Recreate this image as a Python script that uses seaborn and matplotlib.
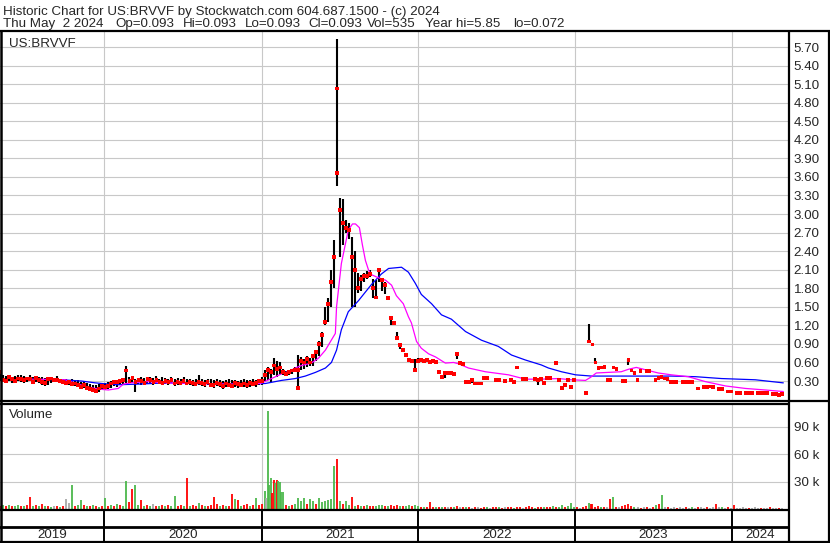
import numpy as np
import pandas as pd
import matplotlib
matplotlib.use("Agg")
import matplotlib.pyplot as plt
import seaborn as sns

nan = np.nan

# ---------------- data ----------------
first_week = "2019-05-03"
year_starts = ["2020-01-01", "2021-01-01", "2022-01-01", "2023-01-01", "2024-01-01"]
year_labels = ["2019", "2020", "2021", "2022", "2023", "2024"]
price_ticks = [0.30, 0.60, 0.90, 1.20, 1.50, 1.80, 2.10, 2.40, 2.70, 3.00,
               3.30, 3.60, 3.90, 4.20, 4.50, 4.80, 5.10, 5.40, 5.70]
volume_ticks = [30, 60, 90]            # thousands of shares
volume_tick_labels = ["30 k", "60 k", "90 k"]

# weekly high / low / close (US$)
high_2019 = [.46, .40, .38, .39, .37, .38, .40, .39, .38, .37, .39, .36, .38, .37, .36, .35, .37, .36,
             .35, .38, .34, .33, .34, .32, .33, .30, .31, .28, .30, .27, .25, .24, .23, .25, .27]
low_2019 = [.30, .29, .28, .30, .27, .28, .30, .29, .27, .28, .30, .27, .29, .26, .24, .22, .24, .27,
            .28, .28, .26, .25, .26, .24, .23, .22, .21, .18, .19, .16, .14, .12, .10, .12, .15]
close_2019 = [.44, .32, .30, .36, .33, .30, .34, .33, .31, .34, .33, .29, .35, .31, .28, .27, .33, .34,
              .31, .32, .30, .28, .27, .29, .25, .26, .24, .20, .23, .19, .17, .16, .14, .18, .22]

high_2020 = [.27, .28, .30, .31, .30, .32, .33, .54, .37, .36,
             .33, .35, .36, .35, .37, .36, .35, .38, .34, .36,
             .35, .33, .36, .34, .35, .34, .36, .33, .34, .32,
             .34, .40, .33, .32, .34, .33, .31, .33, .32, .30,
             .32, .33, .31, .32, .30, .32, .33, .31, .32, .33,
             .31, .34]
low_2020 = [.15, .17, .18, .22, .21, .24, .25, .27, .27, .26,
            .12, .25, .24, .24, .25, .27, .24, .26, .25, .23,
            .25, .24, .26, .22, .24, .24, .25, .23, .24, .22,
            .23, .24, .22, .21, .23, .20, .19, .22, .20, .17,
            .20, .21, .18, .20, .19, .21, .20, .18, .21, .22,
            .20, .23]
close_2020 = [.20, .22, .26, .28, .29, .30, .31, .47, .30, .35,
              .28, .31, .30, .27, .33, .31, .29, .32, .28, .27,
              .30, .28, .31, .26, .29, .27, .30, .26, .28, .27,
              .25, .29, .27, .25, .28, .24, .23, .27, .25, .22,
              .26, .24, .22, .27, .25, .24, .26, .23, .27, .25,
              .27, .30]

high_2021 = [.37, .48, .53, .50, .67, .62, .60, .50, .47, .48,
             .50, .52, .72, .69, .66, .70, .68, .72, .80, .95,
             1.10, 1.50, 1.65, 2.10, 2.58, 5.83, 3.26, 3.24, 2.90, 2.85,
             2.63, 2.40, 2.05, 2.01, 2.05, 2.08, 2.10, 1.95, 1.93, 2.12,
             1.93, 1.90, 1.66, 1.34, 1.26, 1.10, .90, .80, .74, .67,
             .65, .66]
low_2021 = [.24, .30, .32, .29, .40, .37, .40, .40, .38, .40,
            .42, .44, .19, .48, .50, .52, .55, .55, .62, .70,
            .85, 1.20, 1.25, 1.50, 1.80, 3.46, 2.31, 2.50, 2.70, 2.60,
            1.50, 1.50, 1.72, 1.75, 1.90, 1.95, 1.98, 1.64, 1.64, 1.90,
            1.75, 1.70, 1.62, 1.21, 1.20, .98, .82, .78, .70, .63,
            .61, .48]
close_2021 = [.30, .40, .48, .45, .55, .50, .52, .45, .42, .45,
              .47, .48, .48, .62, .60, .65, .60, .70, .77, .90,
              1.05, 1.26, 1.55, 1.90, 2.31, 3.67, 3.07, 2.86, 2.78, 2.74,
              2.31, 2.10, 1.80, 1.95, 2.00, 2.00, 2.03, 1.80, 1.65, 2.10,
              1.93, 1.85, 1.64, 1.32, 1.24, 1.00, .88, .80, .72, .64,
              .62, .48]

high_2022 = [.67, .64, .62, .64, .61, .63, .61, .45, .37, .45,
             .43, .43, .41, .76, .59, .58, .29, .29, .32, .26,
             .26, .26, .35, .35, nan, nan, .31, .31, nan, .30,
             nan, .32, .29, .52, nan, .33, .33, nan, nan, .33,
             .35, .33, .27, .35, .35, nan, .59, .32, .19, .24,
             .31, .20]
low_2022 = [.61, .64, .62, .64, .61, .63, .61, .45, .37, .35,
            .43, .43, .41, .66, .59, .58, .29, .29, .27, .26,
            .26, .26, .35, .35, nan, nan, .31, .31, nan, .30,
            nan, .32, .29, .52, nan, .33, .33, nan, nan, .33,
            .24, .33, .27, .35, .35, nan, .59, .32, .19, .24,
            .31, .20]
close_2022 = [.63, .64, .62, .64, .61, .63, .61, .45, .37, .43,
              .43, .43, .41, .74, .59, .58, .29, .29, .32, .26,
              .26, .26, .35, .35, nan, nan, .31, .31, nan, .30,
              nan, .32, .29, .52, nan, .33, .33, nan, nan, .33,
              .32, .33, .27, .35, .35, nan, .59, .32, .19, .24,
              .31, .20]

high_2023 = [.32, nan, nan, nan, .11, 1.22, .89, .67, .51, .52,
             .53, .32, .32, .52, .50, nan, .30, .30, .65, .47,
             .45, .31, .46, nan, .46, .46, nan, .31, .35, .37,
             .34, .35, .29, .29, .29, nan, .29, .29, .29, .29,
             nan, .18, nan, .20, .20, .21, .20, nan, .17, .17,
             nan, .13]
low_2023 = [.32, nan, nan, nan, .11, .94, .87, .59, .51, .52,
            .53, .32, .32, .52, .50, nan, .30, .30, .56, .47,
            .41, .31, .46, nan, .46, .46, nan, .31, .35, .37,
            .34, .32, .29, .29, .29, nan, .29, .29, .29, .29,
            nan, .18, nan, .20, .20, .21, .20, nan, .17, .17,
            nan, .13]
close_2023 = [.32, nan, nan, nan, .11, .94, .89, .60, .51, .52,
              .53, .32, .32, .52, .50, nan, .30, .30, .64, .47,
              .43, .31, .46, nan, .46, .46, nan, .31, .35, .37,
              .34, .33, .29, .29, .29, nan, .29, .29, .29, .29,
              nan, .18, nan, .20, .20, .21, .20, nan, .17, .17,
              nan, .13]

high_2024 = [.13, nan, .11, .11, nan, .11, .11, .11, nan, .12, .10, .10, .10, nan, .09, .09, .08, .093]
low_2024 = [.13, nan, .11, .11, nan, .11, .11, .11, nan, .09, .10, .10, .10, nan, .09, .09, .08, .093]
close_2024 = [.13, nan, .11, .11, nan, .11, .11, .11, nan, .10, .10, .10, .10, nan, .09, .09, .08, .093]

# extra intra-week trade marks (week offset, price)
extra_close_week = [99.0, 112.0]
extra_close = [0.19, 5.03]

# weekly volume (thousands) and direction (g = up, r = down, n = unchanged)
vol_2019 = [3, 4, 3, 4, 3, 3, 4, 3, 3, 4, 13.4, 3, 4, 3, 5.5, 3, 3, 2, 3, 3, 2, 3, 10.9, 7, 26.2,
            3, 4, 9.8, 4, 3, 3, 4, 3, 2, 3]
dir_2019 = "rgrgr ggrgr rgrgr grgnr grnng rggrg rgrgr"
vol_2020 = [11.6, 3, 4, 3, 5, 4, 3, 30.5, 8, 21.8,
            26.2, 4, 9.8, 3, 4, 3, 5, 3, 3, 4,
            3, 4, 3, 14.2, 3, 4, 3, 33.5, 3, 4,
            3, 6.9, 4, 3, 3, 4, 12.7, 5.5, 3, 4,
            3, 3, 16.4, 10.5, 9.8, 3, 4, 5.5, 3, 4,
            12, 4]
dir_2020 = "grgrg rggrr ggrgr gnrgr grggr rgrgr rgrgr rrrgr grrgr grrgr gr"
vol_2021 = [6, 19.6, 107, 33.5, 31.6, 31.6, 30, 18.9, 4, 3,
            4, 6, 11.6, 9, 11.6, 5, 10.5, 9, 6, 11.6,
            8, 9.1, 10, 11, 46.9, 54.2, 9, 5, 9, 4,
            13.4, 3, 4, 3, 3, 4, 3, 3, 3, 4,
            4.4, 3, 3, 4, 3, 4.4, 3, 3, 3, 4.4,
            3, 4]
dir_2021 = "rgggr rggrg rgggg rggrg ggggg rgrgg rgrgr grrgg grgrr rgrgg rg"
vol_2022 = [3, 2.5, 2, 2.5, 8, 2, 2.5, 2, 2.5, 2,
            2, 2.5, 2, 3, 2, 2, 2, 2, 1.5, 2,
            2, 1.5, 2, 2, 1.5, 2, 2, 2, 1.5, 2,
            2, 2.5, 1.5, 2, 2, 1.5, 2, 3.3, 2, 1.5,
            2, 2, 2.5, 2, 2, 3, 2, 2, 4.4, 2,
            3, 6.9]
dir_2022 = "grgrr rgrgr nrgrn rgrnr nrrgn rrgrn rrgrr nrrrg rrgrr grggr gg"
vol_2023 = [2, 2, 1.5, 2, 3, 6.9, 5.5, 2, 3.3, 2,
            2, 2, 10.5, 13.4, 2, 2, 3.3, 4.4, 5.5, 3.3,
            2, 2, 1.5, 2, 2, 1.5, 2, 4.4, 5.5, 15.3,
            2, 2.5, 1.5, 2, 1.5, 2, 1.5, 2, 1.5, 2,
            1.5, 2, 2, 1.5, 2, 1.5, 2, 5.5, 2, 2,
            1.5, 2]
dir_2023 = "grnrr grrrg rnrgr nrrrr gnrnr nrgrg nrnnr nnrng nrnnr nnrng nr"
vol_2024 = [1.5, 4.4, 1.5, 1.5, 2, 1.5, 1.5, 1.5, 2, 1.5, 1.5, 1.5, 1.5, 2, 1.5, 1.5, 1.5, 1.5]
dir_2024 = "nrnnn nrnnn rnnrn nrn"

# extra intra-week volume bars in the January 2021 burst
vol_extra_week = [88.5, 89.5, 90.5, 91.5, 92.5, 93.5, 196.4]
vol_extra = [11.6, 26, 17, 28, 30.5, 19, 5.5]
vol_extra_dir = "ngrgggr"

# moving averages (week offset, value)
ma_short_week = [7.1, 12.7, 19.4, 21.7, 26.0, 29.4, 32.7, 36.0, 39.3, 41.0, 43.3, 49.3, 55.0, 66.0,
                 76.0, 86.6, 91.6, 94.2, 95.9, 98.2, 100.2, 103.5, 105.9, 108.2, 109.9, 111.5,
                 111.9, 113.5, 115.8, 117.2, 118.2, 119.5, 120.5, 121.5, 122.5, 123.5, 125.8,
                 128.2, 130.2, 131.8, 134.1, 135.8, 136.8, 138.5, 140.1, 142.5, 144.8, 148.1,
                 150.8, 152.4, 155.8, 161.4, 169.1, 174.7, 180.0, 185.7, 190.0, 194.7, 196.4,
                 198.3, 206.6, 209.0, 211.6, 215.6, 218.9, 223.3, 228.9, 234.6, 241.3, 247.9,
                 254.5, 260.5]
ma_short = [.33, .33, .32, .32, .25, .20, .17, .155, .18, .25, .27, .29, .27, .26, .25, .26, .37,
            .43, .45, .51, .55, .59, .67, .80, .94, 1.07, 1.50, 2.20, 2.74, 2.84, 2.84, 2.78,
            2.50, 2.25, 2.10, 2.02, 1.97, 1.93, 1.85, 1.68, 1.55, 1.34, 1.24, .94, .83, .74,
            .69, .59, .60, .58, .51, .45, .40, .33, .33, .34, .32, .31, .36, .43, .45, .49,
            .52, .47, .43, .40, .37, .29, .22, .18, .155, .13]
ma_long_week = [20.4, 27.0, 31.7, 36.0, 39.3, 46.0, 55.0, 66.0, 79.3, 88.2, 93.6, 98.2, 101.5,
                104.9, 108.2, 110.2, 111.9, 113.5, 115.8, 119.2, 123.5, 126.8, 129.2, 133.5,
                135.8, 138.1, 140.1, 143.5, 146.8, 150.1, 154.8, 160.1, 165.7, 170.1, 174.7,
                180.0, 182.4, 186.7, 191.4, 196.7, 212.3, 223.3, 231.3, 239.9, 251.2, 260.5]
ma_long = [.32, .30, .27, .25, .24, .25, .27, .26, .25, .26, .31, .34, .38, .44, .51, .60, .80,
           1.13, 1.42, 1.60, 1.86, 2.03, 2.12, 2.14, 2.06, 1.88, 1.70, 1.55, 1.37, 1.30, 1.10,
           .96, .86, .72, .64, .56, .51, .45, .40, .38, .38, .38, .37, .34, .32, .27]

# ---------------- assemble ----------------
high = high_2019 + high_2020 + high_2021 + high_2022 + high_2023 + high_2024
low = low_2019 + low_2020 + low_2021 + low_2022 + low_2023 + low_2024
close = close_2019 + close_2020 + close_2021 + close_2022 + close_2023 + close_2024
volume = vol_2019 + vol_2020 + vol_2021 + vol_2022 + vol_2023 + vol_2024
vdir = "".join([dir_2019, dir_2020, dir_2021, dir_2022, dir_2023, dir_2024]).replace(" ", "")

base = pd.Timestamp(first_week)
dates = pd.date_range(first_week, periods=len(close), freq="7D")
price_df = pd.DataFrame({"date": dates, "high": high, "low": low, "close": close})
vol_df = pd.DataFrame({"date": pd.date_range(first_week, periods=len(volume), freq="7D"),
                       "volume": volume})
vol_df["dir"] = list(vdir[:len(volume)]) + ["n"] * max(0, len(volume) - len(vdir))


def wk(w):
    return base + pd.to_timedelta(np.asarray(w, dtype=float) * 7, unit="D")


ma_s = pd.DataFrame({"date": wk(ma_short_week), "value": ma_short})
ma_l = pd.DataFrame({"date": wk(ma_long_week), "value": ma_long})
extra = pd.DataFrame({"date": wk(extra_close_week), "close": extra_close})
vol_x = pd.DataFrame({"date": wk(vol_extra_week), "volume": vol_extra, "dir": list(vol_extra_dir)})
vol_all = pd.concat([vol_df, vol_x], ignore_index=True)

col_map = {"g": "#4CB84C", "r": "#FF0000", "n": "#A8A8A8"}

# ---------------- figure ----------------
sns.set_style("white")
plt.rcParams["font.family"] = ["Liberation Sans", "DejaVu Sans"]
FS = 9.6
W, H = 830, 543
fig = plt.figure(figsize=(W / 100, H / 100), dpi=100)


def px_axes(x0, y0, x1, y1, **kw):
    return fig.add_axes([x0 / W, 1 - y1 / H, (x1 - x0) / W, (y1 - y0) / H], **kw)


ax_p = px_axes(0, 31, 788, 400.5)
ax_v = px_axes(0, 403.5, 788, 510, sharex=ax_p)
ax_b = px_axes(0, 510, 788, 542, sharex=ax_p)

x_left = base - pd.Timedelta(hours=7)
x_right = base + pd.Timedelta(days=1834.4)
ys = pd.to_datetime(year_starts)

# price panel
m = price_df["high"].notna()
ax_p.vlines(price_df.loc[m, "date"], price_df.loc[m, "low"], price_df.loc[m, "high"],
            color="black", lw=1.5, zorder=2)
sns.lineplot(data=ma_l, x="date", y="value", ax=ax_p, color="#0000FF", lw=0.9, zorder=3, legend=False)
sns.lineplot(data=ma_s, x="date", y="value", ax=ax_p, color="#FF00FF", lw=0.9, zorder=3, legend=False)
sns.scatterplot(data=price_df.dropna(subset=["close"]), x="date", y="close", ax=ax_p, marker="s", s=7.5,
                color="#FF0000", edgecolor="none", linewidth=0, zorder=4, legend=False)
sns.scatterplot(data=extra, x="date", y="close", ax=ax_p, marker="s", s=7.5,
                color="#FF0000", edgecolor="none", linewidth=0, zorder=4, legend=False)
ax_p.set_xlim(x_left, x_right)
ax_p.set_ylim(-0.015, 5.96)
ax_p.set_yticks(price_ticks)
ax_p.set_yticklabels([f"{t:.2f}" for t in price_ticks])
ax_p.yaxis.tick_right()
ax_p.set_xticks(ys)
ax_p.tick_params(axis="x", length=0, labelbottom=False)
ax_p.tick_params(axis="y", length=0, pad=4.0, labelsize=FS)
ax_p.grid(True, color="#C8C8C8", lw=0.8)
ax_p.set_axisbelow(True)
ax_p.set_xlabel("")
ax_p.set_ylabel("")
ax_p.text(9 / 788, 1 - (46.7 - 31) / 369.5, "US:BRVVF", transform=ax_p.transAxes,
          fontsize=FS, va="baseline", ha="left")

# volume panel
ax_v.vlines(vol_all["date"], 0, vol_all["volume"], colors=[col_map[c] for c in vol_all["dir"]],
            lw=1.3, zorder=2)
ax_v.set_ylim(-1.09, 115.1)
ax_v.set_yticks(volume_ticks)
ax_v.set_yticklabels(volume_tick_labels)
ax_v.yaxis.tick_right()
ax_v.tick_params(axis="y", length=0, pad=4.0, labelsize=FS)
ax_v.tick_params(axis="x", length=0, labelbottom=False)
ax_v.grid(True, color="#C8C8C8", lw=0.8)
ax_v.set_axisbelow(True)
ax_v.text(9 / 788, 1 - (418 - 403.5) / 106.5, "Volume", transform=ax_v.transAxes,
          fontsize=FS, va="baseline", ha="left")

# year band
ax_b.set_ylim(0, 1)
ax_b.set_yticks([])
ax_b.tick_params(axis="x", length=0, labelbottom=False)
for d in ys:
    ax_b.axvline(d, color="black", lw=1.4)
ax_b.axhline((542 - 526.5) / 32, color="black", lw=2.0)
bounds = [x_left] + list(ys) + [x_right]
for lab, a, b in zip(year_labels, bounds[:-1], bounds[1:]):
    mid = a + (b - a) / 2
    ax_b.text(mid, (542 - 534.5) / 32, lab, ha="center", va="center", fontsize=FS)

for ax in (ax_p, ax_v, ax_b):
    for s in ax.spines.values():
        s.set_visible(False)
    ax.set_facecolor("white")

# frame overlay
ov = fig.add_axes([0, 0, 1, 1], zorder=10)
ov.set_xlim(0, W)
ov.set_ylim(H, 0)
ov.axis("off")
ov.patch.set_alpha(0)
k = dict(color="black", lw=1.6, solid_capstyle="butt")
ov.plot([0, 830], [31, 31], **k)
ov.plot([0, 830], [541.6, 541.6], **k)
ov.plot([1.1, 1.1], [31, 542], color="black", lw=1.8)
ov.plot([828.8, 828.8], [31, 542], **k)
ov.plot([788.8, 788.8], [31, 542], **k)
ov.plot([0, 830], [400.6, 400.6], **k)
ov.plot([0, 789], [403.6, 403.6], **k)
ov.plot([0, 789], [510.2, 510.2], **k)

# header
fig.text(3 / W, 1 - 14.7 / H, "Historic Chart for US:BRVVF by Stockwatch.com 604.687.1500 - (c) 2024",
         fontsize=FS, va="baseline", ha="left")
header2 = [(3, "Thu May  2 2024"), (115, "Op=0.093"), (183, "Hi=0.093"), (245, "Lo=0.093"),
           (308, "Cl=0.093"), (367, "Vol=535"), (425, "Year hi=5.85"), (513, "lo=0.072")]
for x, t in header2:
    fig.text(x / W, 1 - 27.3 / H, t, fontsize=FS, va="baseline", ha="left")

fig.savefig("out.png", dpi=100, facecolor="white")
